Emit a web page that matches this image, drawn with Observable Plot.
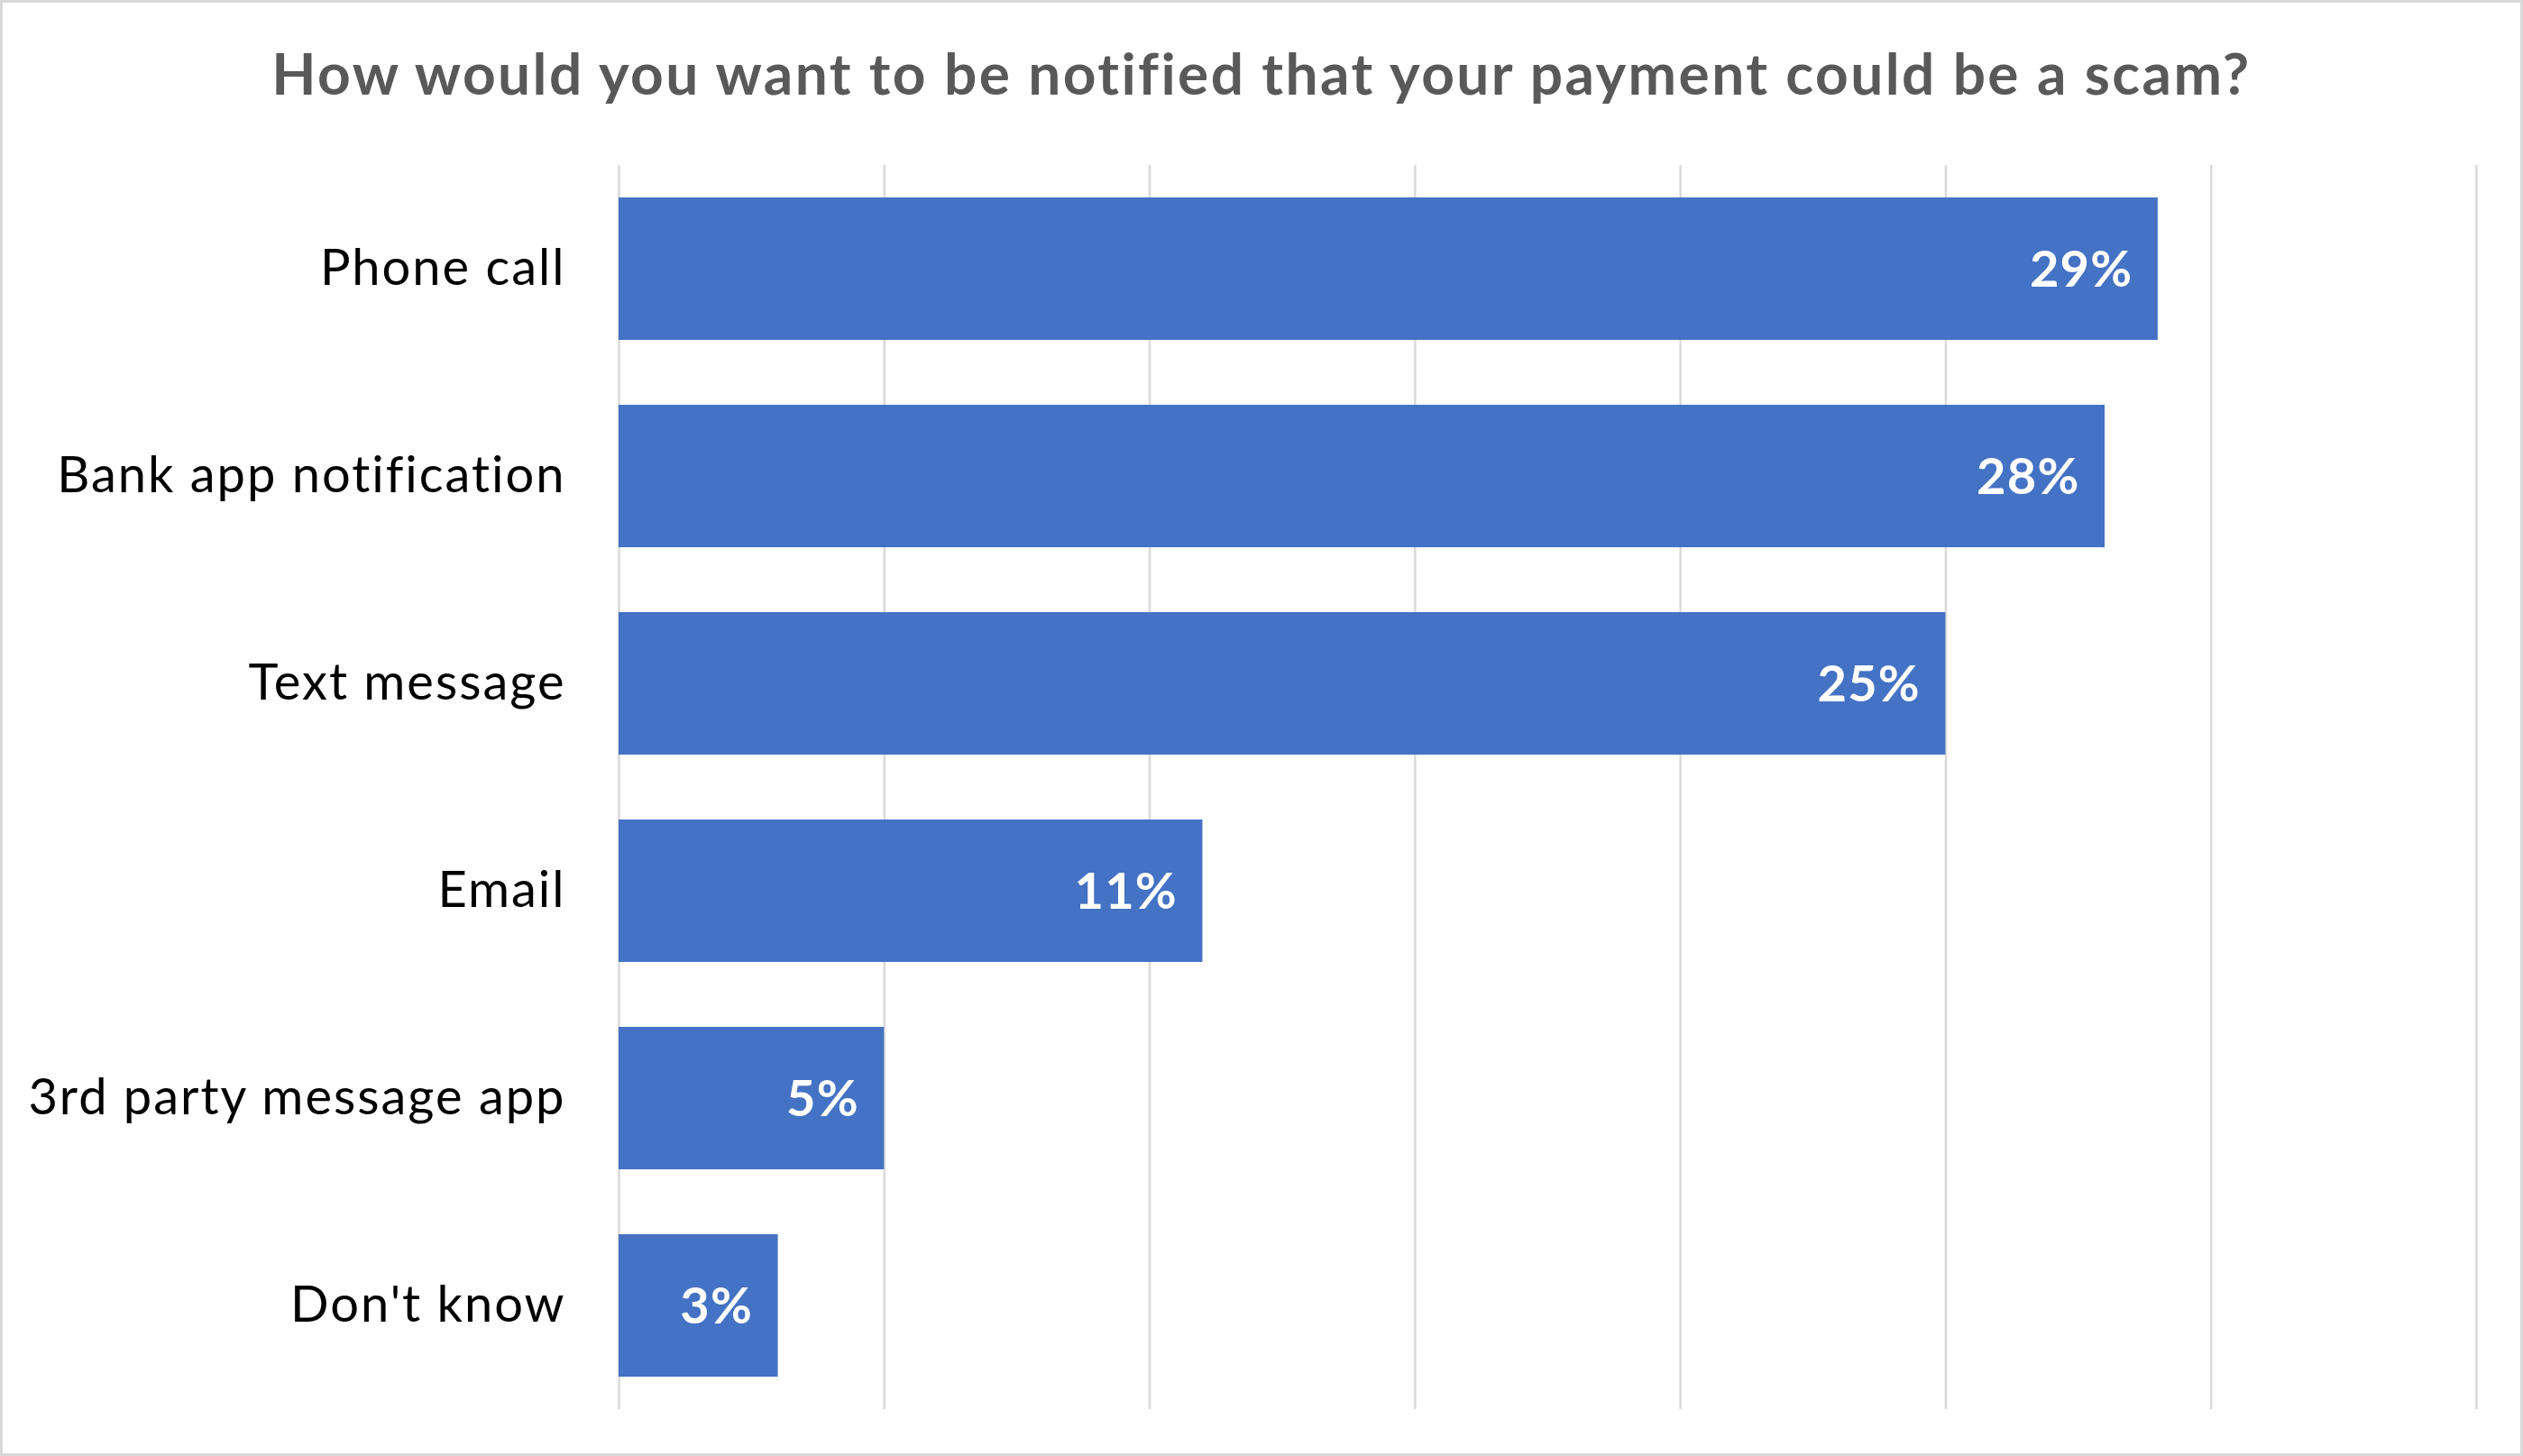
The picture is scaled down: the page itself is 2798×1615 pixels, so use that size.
<!DOCTYPE html>
<html>
<head>
<meta charset="utf-8">
<script src="https://cdn.jsdelivr.net/npm/d3@7"></script>
<script src="https://cdn.jsdelivr.net/npm/@observablehq/plot@0.6"></script>
<style>
  html, body { margin: 0; padding: 0; background: #fff; }
  #wrap { position: relative; width: 2798px; height: 1615px; overflow: hidden; background: #fff; }
  #frame { position: absolute; left: 0; top: 0; width: 2798px; height: 1615px; box-sizing: border-box; border: 3px solid #d9d9d9; pointer-events: none; }
  #title { height: 150px; width: 2798px; text-align: center; font-family: Lato, sans-serif; font-weight: bold; font-size: 64px; letter-spacing: 2.4px; color: #595959; line-height: 1; padding-top: 49px; box-sizing: border-box; white-space: nowrap; }
  #chart svg { display: block; }
  #chart svg text { letter-spacing: 2px; }
  #chart svg g.vals text { letter-spacing: 1.2px; }
</style>
</head>
<body>
<div id="wrap">
  <div id="title">How would you want to be notified that your payment could be a scam?</div>
  <div id="chart"></div>
  <div id="frame"></div>
</div>
<script>
const categories = ["Phone call", "Bank app notification", "Text message", "Email", "3rd party message app", "Don't know"];
const values = [29, 28, 25, 11, 5, 3];
const gridTicks = [0, 5, 10, 15, 20, 25, 30, 35];

const data = categories.map((c, i) => ({category: c, value: values[i], label: values[i] + "%"}));

const chart = Plot.plot({
  width: 2798,
  height: 1465,
  marginTop: 33,
  marginBottom: 52,
  marginLeft: 686,
  marginRight: 52,
  style: {fontFamily: "Lato, sans-serif", fontSize: "56px", background: "transparent", color: "#000"},
  x: {domain: [0, 35], axis: null},
  y: {domain: categories, paddingInner: 0.313, paddingOuter: 0.1565, axis: null},
  marks: [
    Plot.gridX(gridTicks, {stroke: "#d9d9d9", strokeWidth: 2.5, strokeOpacity: 1}),
    Plot.barX(data, {x: "value", y: "category", fill: "#4472C4"}),
    Plot.axisY({tickSize: 0, tickPadding: 59, fontSize: 56, fill: "#000", label: null}),
    Plot.text(data, {x: "value", y: "category", text: "label", textAnchor: "end", dx: -28, dy: 2, fill: "#fff", fontWeight: "bold", fontSize: 56, className: "vals"})
  ]
});
document.getElementById("chart").appendChild(chart);
</script>
</body>
</html>
